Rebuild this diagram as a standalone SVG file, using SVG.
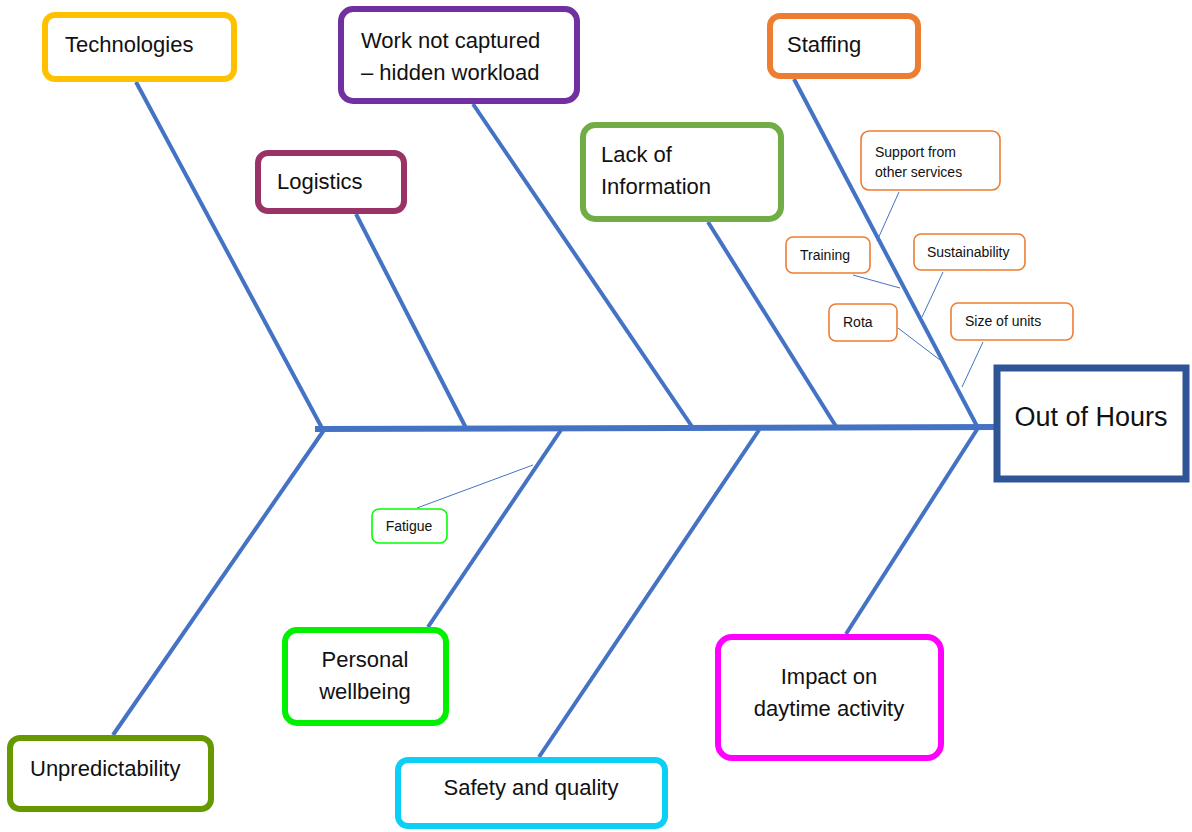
<svg xmlns="http://www.w3.org/2000/svg" width="1192" height="832" viewBox="0 0 1192 832">
<style>
.bg{fill:#ffffff}
.box{fill:#ffffff;stroke-width:6}
.sbox{fill:#ffffff;stroke-width:1.6}
.t{font-family:"Liberation Sans",Arial,sans-serif;font-size:22px;fill:#111111}
.st{font-family:"Liberation Sans",Arial,sans-serif;font-size:14px;fill:#111111}
.bone{stroke:#4472C4;stroke-width:4;fill:none;stroke-linecap:butt}
.spine{stroke:#4472C4;stroke-width:6;fill:none}
.sub{stroke:#4472C4;stroke-width:1;fill:none}
</style>
<rect class="bg" x="0" y="0" width="1192" height="832"/>
<g id="connectors">
<line class="spine" x1="315" y1="429" x2="998" y2="427"/>
<line class="bone" x1="136" y1="82" x2="322" y2="428"/>
<line class="bone" x1="356" y1="214" x2="466" y2="428"/>
<line class="bone" x1="473" y1="104" x2="693" y2="428"/>
<line class="bone" x1="708" y1="222" x2="837" y2="428"/>
<line class="bone" x1="794" y1="79" x2="978" y2="428"/>
<line class="bone" x1="324" y1="430" x2="113" y2="735"/>
<line class="bone" x1="561" y1="430" x2="428" y2="627"/>
<line class="bone" x1="759" y1="430" x2="539" y2="757"/>
<line class="bone" x1="978" y1="428" x2="846" y2="634"/>
<line class="sub" x1="899" y1="192" x2="877" y2="241"/>
<line class="sub" x1="853" y1="275" x2="900" y2="288"/>
<line class="sub" x1="943" y1="272" x2="922" y2="317"/>
<line class="sub" x1="898" y1="328" x2="940" y2="360"/>
<line class="sub" x1="983" y1="342" x2="962" y2="387"/>
<line class="sub" x1="417" y1="508" x2="533" y2="465"/>
</g>
<g id="technologies">
<rect class="box" x="45" y="15" width="189" height="64" rx="10" stroke="#FFC000"/>
<text class="t" x="65" y="52">Technologies</text>
</g>
<g id="work-not-captured">
<rect class="box" x="341" y="9" width="236" height="92" rx="12" stroke="#7030A0"/>
<text class="t" x="361" y="48">Work not captured</text>
<text class="t" x="361" y="80">– hidden workload</text>
</g>
<g id="staffing">
<rect class="box" x="770" y="16" width="148" height="60" rx="10" stroke="#ED7D31"/>
<text class="t" x="787" y="52">Staffing</text>
</g>
<g id="logistics">
<rect class="box" x="258" y="153" width="146" height="58" rx="10" stroke="#993366"/>
<text class="t" x="277" y="189">Logistics</text>
</g>
<g id="lack-of-information">
<rect class="box" x="583" y="125" width="198" height="94" rx="12" stroke="#70AD47"/>
<text class="t" x="601" y="162">Lack of</text>
<text class="t" x="601" y="194">Information</text>
</g>
<g id="out-of-hours">
<rect x="997" y="368" width="189" height="111" fill="#ffffff" stroke="#2F5597" stroke-width="7"/>
<text class="t" x="1091" y="426" text-anchor="middle" style="font-size:27px">Out of Hours</text>
</g>
<g id="support-from-other-services">
<rect class="sbox" x="861" y="131" width="139" height="59" rx="8" stroke="#ED7D31"/>
<text class="st" x="875" y="157">Support from</text>
<text class="st" x="875" y="177">other services</text>
</g>
<g id="training">
<rect class="sbox" x="786" y="237" width="84" height="36" rx="7" stroke="#ED7D31"/>
<text class="st" x="800" y="260">Training</text>
</g>
<g id="sustainability">
<rect class="sbox" x="914" y="234" width="111" height="36" rx="7" stroke="#ED7D31"/>
<text class="st" x="927" y="257">Sustainability</text>
</g>
<g id="rota">
<rect class="sbox" x="829" y="304" width="68" height="37" rx="7" stroke="#ED7D31"/>
<text class="st" x="843" y="327">Rota</text>
</g>
<g id="size-of-units">
<rect class="sbox" x="951" y="303" width="122" height="37" rx="7" stroke="#ED7D31"/>
<text class="st" x="965" y="326">Size of units</text>
</g>
<g id="fatigue">
<rect class="sbox" x="372" y="509" width="75" height="34" rx="7" stroke="#00FF00"/>
<text class="st" x="409" y="531" text-anchor="middle">Fatigue</text>
</g>
<g id="personal-wellbeing">
<rect class="box" x="285" y="630" width="161" height="93" rx="12" stroke="#00F000"/>
<text class="t" x="365" y="667" text-anchor="middle">Personal</text>
<text class="t" x="365" y="699" text-anchor="middle">wellbeing</text>
</g>
<g id="unpredictability">
<rect class="box" x="10" y="738" width="201" height="71" rx="10" stroke="#669900"/>
<text class="t" x="30" y="776">Unpredictability</text>
</g>
<g id="safety-and-quality">
<rect class="box" x="398" y="760" width="267" height="66" rx="10" stroke="#0BCFF5"/>
<text class="t" x="531" y="795" text-anchor="middle">Safety and quality</text>
</g>
<g id="impact-on-daytime-activity">
<rect class="box" x="718" y="637" width="223" height="121" rx="14" stroke="#FF00FF"/>
<text class="t" x="829" y="684" text-anchor="middle">Impact on</text>
<text class="t" x="829" y="716" text-anchor="middle">daytime activity</text>
</g>
</svg>
